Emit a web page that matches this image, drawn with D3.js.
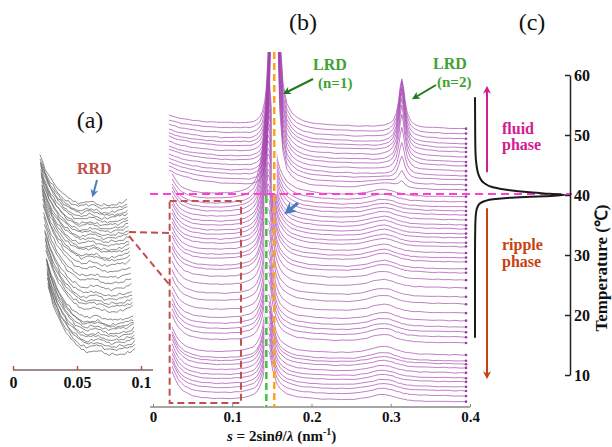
<!DOCTYPE html>
<html>
<head>
<meta charset="utf-8">
<script src="https://cdn.jsdelivr.net/npm/d3@7"></script>
<style>
  body { margin: 0; background: #fff; }
  svg { display: block; font-family: "Liberation Serif", "Times New Roman", serif; }
</style>
</head>
<body>
<svg id="chart" width="612" height="447"></svg>
<script>
// scattering vector grid (nm^-1)
const sGrid = [
  0.020, 0.024, 0.028, 0.032, 0.036, 0.040, 0.045, 0.050, 0.056, 0.062, 0.068, 0.074,
  0.080, 0.086, 0.092, 0.098, 0.104, 0.110, 0.116, 0.122, 0.127, 0.131, 0.135, 0.138,
  0.141, 0.143, 0.145, 0.147, 0.149, 0.151, 0.153, 0.155, 0.157, 0.160, 0.164, 0.169,
  0.175, 0.182, 0.190, 0.198, 0.206, 0.214, 0.222, 0.230, 0.238, 0.246, 0.254, 0.262,
  0.270, 0.278, 0.285, 0.292, 0.298, 0.303, 0.307, 0.310, 0.312, 0.314, 0.316, 0.318,
  0.321, 0.325, 0.330, 0.337, 0.345, 0.353, 0.360, 0.367, 0.374, 0.381, 0.388, 0.395
];

// profile components (relative units)
const softRise = [
  1, 0.9, 0.8, 0.72, 0.64, 0.57, 0.5, 0.43, 0.36, 0.3, 0.25, 0.2,
  0.16, 0.12, 0.09, 0.07, 0.05, 0.035, 0.02, 0.01, 0, 0, 0, 0,
  0, 0, 0, 0, 0, 0, 0, 0, 0, 0, 0, 0,
  0, 0, 0, 0, 0, 0, 0, 0, 0, 0, 0, 0,
  0, 0, 0, 0, 0, 0, 0, 0, 0, 0, 0, 0,
  0, 0, 0, 0, 0, 0, 0, 0, 0, 0, 0, 0
];
const steepRise = [
  1.3, 1, 0.72, 0.5, 0.36, 0.26, 0.18, 0.12, 0.08, 0.05, 0.03, 0.02,
  0.01, 0, 0, 0, 0, 0, 0, 0, 0, 0, 0, 0,
  0, 0, 0, 0, 0, 0, 0, 0, 0, 0, 0, 0,
  0, 0, 0, 0, 0, 0, 0, 0, 0, 0, 0, 0,
  0, 0, 0, 0, 0, 0, 0, 0, 0, 0, 0, 0,
  0, 0, 0, 0, 0, 0, 0, 0, 0, 0, 0, 0
];
const lrdFluid = [
  0, 0, 0, 0, 0, 0.001, 0.001, 0.001, 0.002, 0.002, 0.002, 0.003,
  0.003, 0.003, 0.004, 0.004, 0.005, 0.005, 0.006, 0.006, 0.009, 0.013, 0.02, 0.032,
  0.055, 0.09, 0.16, 0.28, 0.5, 0.8, 1, 0.8, 0.5, 0.22, 0.1, 0.05,
  0.03, 0.018, 0.011, 0.007, 0.005, 0.004, 0.003, 0.002, 0.002, 0.002, 0.001, 0.001,
  0.001, 0, 0, 0, 0, 0, 0, 0, 0, 0, 0, 0,
  0, 0, 0, 0, 0, 0, 0, 0, 0, 0, 0, 0
];
const lrdRipple = [
  0.002, 0.002, 0.003, 0.003, 0.003, 0.003, 0.004, 0.004, 0.005, 0.005, 0.006, 0.007,
  0.008, 0.01, 0.012, 0.015, 0.02, 0.027, 0.04, 0.062, 0.095, 0.15, 0.26, 0.4,
  0.65, 0.85, 1, 0.97, 0.8, 0.6, 0.5, 0.38, 0.3, 0.22, 0.16, 0.11,
  0.075, 0.05, 0.035, 0.025, 0.018, 0.014, 0.011, 0.009, 0.008, 0.007, 0.006, 0.005,
  0.004, 0.004, 0.003, 0.003, 0.003, 0.003, 0.002, 0.002, 0.002, 0.002, 0.002, 0.002,
  0.002, 0.002, 0.002, 0.002, 0.001, 0.001, 0.001, 0.001, 0.001, 0.001, 0.001, 0.001
];
const lrd2 = [
  0, 0, 0, 0, 0, 0, 0, 0, 0, 0, 0, 0,
  0, 0, 0, 0, 0, 0, 0, 0, 0, 0, 0, 0,
  0, 0, 0, 0, 0, 0, 0, 0, 0, 0, 0, 0,
  0, 0, 0, 0, 0, 0.002, 0.002, 0.003, 0.0035, 0.004, 0.0055, 0.007,
  0.01, 0.015, 0.023, 0.04, 0.072, 0.142, 0.29, 0.56, 0.83, 1, 0.83, 0.56,
  0.29, 0.142, 0.072, 0.036, 0.02, 0.013, 0.009, 0.0066, 0.005, 0.004, 0.0032, 0.0027
];
const rippleBumpShape = [
  0, 0, 0, 0, 0, 0, 0, 0, 0, 0, 0, 0,
  0, 0, 0, 0, 0, 0, 0, 0, 0, 0, 0, 0,
  0, 0, 0, 0, 0, 0, 0, 0, 0, 0, 0, 0,
  0, 0, 0, 0, 0, 0, 0, 0, 0.02, 0.05, 0.12, 0.25,
  0.45, 0.72, 0.93, 1, 0.9, 0.72, 0.55, 0.45, 0.38, 0.32, 0.27, 0.22,
  0.16, 0.1, 0.06, 0.03, 0.01, 0, 0, 0, 0, 0, 0, 0
];
const tilt = [
  1, 1, 1, 1, 1, 1, 1, 1, 1, 1, 1, 1,
  1, 1, 1, 1, 1, 1, 1, 1, 1, 1, 1, 1,
  1, 1, 1, 1, 1, 1, 1, 1, 1, 1, 1, 1,
  0.97, 0.94, 0.9, 0.87, 0.83, 0.8, 0.76, 0.73, 0.7, 0.66, 0.63, 0.6,
  0.56, 0.53, 0.5, 0.47, 0.45, 0.42, 0.41, 0.4, 0.39, 0.38, 0.37, 0.36,
  0.35, 0.33, 0.31, 0.28, 0.24, 0.21, 0.17, 0.14, 0.1, 0.07, 0.03, 0
];
const wiggle = [
  0.3, -0.5, 0.8, -0.2, -0.9, 0.4, 0.1, -0.6, 0.7, -0.3, 0.5, -0.8, 0.2,
  0.9, -0.4, -0.1, 0.6, -0.7, 0.3, -0.2, 0.8, -0.5, 0.1, -0.9, 0.4,
  0.7, -0.3, -0.6, 0.5, 0.2, -0.8, 0.6, -0.1, 0.3, -0.4, 0.9, -0.2
];

// fluid phase spectra (top to bottom)
const fluidOffsets = [278, 273, 268, 263, 259, 255, 250, 245, 241, 236, 231, 227, 222, 217];
const fluidLRD1 = [420, 420, 410, 410, 400, 400, 390, 390, 380, 380, 370, 360, 350, 340];
const fluidLRD2 = [49, 52, 55, 56, 58, 58, 57, 55, 50, 42, 32, 22, 12, 6];
const fluidRise = [10, 10, 11, 11, 11, 12, 12, 12, 13, 13, 14, 14, 15, 16];
const fluidBump = [0, 0, 0, 0, 0, 0, 0, 0, 0, 0, 0, 1, 3, 5];

// ripple phase spectra (top to bottom)
const rippleOffsets = [210, 205, 200, 196, 192, 187, 182, 178, 173, 169, 164, 160, 154, 149, 145, 138, 134, 127, 119,
  110, 103, 94, 86, 80, 75, 70, 64, 52, 46, 43, 39, 34, 29, 25, 20, 16, 11, 5];
const rippleLRD = [115, 112, 110, 108, 105, 103, 100, 98, 96, 94, 92, 90, 88, 86, 84, 82, 80, 78, 76,
  74, 72, 70, 68, 66, 64, 62, 60, 58, 57, 56, 55, 54, 53, 52, 51, 50, 49, 48];
const rippleRise = [20, 20, 20, 21, 21, 21, 21, 22, 22, 22, 22, 22, 23, 23, 23, 23, 23, 24, 24,
  24, 24, 24, 25, 25, 25, 25, 25, 25, 26, 26, 26, 26, 26, 26, 26, 27, 27, 27];
const rippleBump = [6, 6, 6, 6, 6, 7, 7, 7, 7, 7, 7, 7, 7, 7, 7, 7, 7, 7, 7,
  7, 7, 7, 7, 7, 7, 7, 7, 7, 7, 6, 6, 6, 6, 6, 6, 6, 6, 6];

// panel (a): magnified small-angle region
const sA = [0.021, 0.023, 0.025, 0.027, 0.029, 0.031, 0.033, 0.035, 0.037, 0.039, 0.041, 0.043,
  0.045, 0.047, 0.049, 0.051, 0.053, 0.055, 0.057, 0.059, 0.061, 0.063, 0.065, 0.067,
  0.069, 0.071, 0.073, 0.075, 0.077, 0.079, 0.081, 0.083, 0.085, 0.087, 0.089];
const riseA = [1, 0.86, 0.74, 0.63, 0.54, 0.46, 0.39, 0.33, 0.27, 0.22, 0.18, 0.14,
  0.11, 0.08, 0.06, 0.04, 0.03, 0.02, 0.01, 0, 0, 0, 0, 0,
  0, 0, 0, 0, 0, 0, 0, 0, 0, 0, 0];
const rrdA = [0, 0, 0, 0, 0, 0, 0, 0, 0, 0, 0, 0,
  0, 0, 0, 0, 0.2, 0.5, 0.8, 1, 1, 0.8, 0.5, 0.2,
  0, 0, 0, 0, 0, 0, 0, 0, 0, 0, 0];
const tailA = [0, 0, 0, 0, 0, 0, 0, 0, 0, 0, 0, 0,
  0, 0, 0, 0, 0, 0, 0, 0, 0, 0, 0, 0,
  0, 0, 0, 0.05, 0.1, 0.17, 0.25, 0.35, 0.5, 0.7, 1];

// panel (c): DSC trace
const dscTemp = [56.3, 50, 47, 45, 44, 43, 42, 41.3, 40.8, 40.5, 40.2, 40, 39.8, 39.6, 39.3, 39, 38.6, 38, 37, 35, 30, 16.2];
const dscFlow = [0, 0.2, 0.5, 1.5, 2.5, 4.5, 9, 18, 35, 52, 75, 90, 70, 40, 18, 10, 5, 2.5, 1, 0.3, 0, 0];
const tempTicks = [10, 20, 30, 40, 50, 60];

const svg = d3.select('#chart');
const defs = svg.append('defs');

const marker = (id, color) => {
  defs.append('marker')
    .attr('id', id)
    .attr('viewBox', '0 0 10 10')
    .attr('refX', 7)
    .attr('refY', 5)
    .attr('markerWidth', 4)
    .attr('markerHeight', 4)
    .attr('orient', 'auto')
    .append('path')
    .attr('d', 'M0,0 L10,5 L0,10 L3,5 z')
    .attr('fill', color);
};
marker('mGreen', '#1f7a1f');
marker('mBlue', '#4a7ebb');
marker('mPink', '#d0208f');
marker('mRed', '#c8420e');

defs.append('clipPath')
  .attr('id', 'clipB')
  .append('rect')
  .attr('x', 140)
  .attr('y', 52)
  .attr('width', 345)
  .attr('height', 360);

// Panel (b)
const xB = d3.scaleLinear().domain([0, 0.4]).range([153, 470]);
const yB = d3.scaleLinear().domain([0, 360]).range([407, 47]);
const lineB = d3.line().x(d => xB(d[0])).y(d => yB(d[1]));

const spectra = [];
fluidOffsets.forEach((off, i) => {
  spectra.push(sGrid.map((s, j) => [s,
    off + 4 * tilt[j] + fluidRise[i] * softRise[j] + fluidLRD1[i] * lrdFluid[j] +
    fluidLRD2[i] * lrd2[j] + fluidBump[i] * rippleBumpShape[j] +
    0.4 * wiggle[(3 * j + 7 * i) % wiggle.length]]));
});
rippleOffsets.forEach((off, i) => {
  spectra.push(sGrid.slice(1).map((s, k) => {
    const j = k + 1;
    return [s,
      off + 3 * tilt[j] + rippleRise[i] * steepRise[j] + rippleLRD[i] * lrdRipple[j] +
      rippleBump[i] * rippleBumpShape[j] + 0.4 * wiggle[(5 * j + 11 * i + 3) % wiggle.length]];
  }));
});

const gB = svg.append('g').attr('clip-path', 'url(#clipB)');
gB.selectAll('path.spec')
  .data(spectra)
  .enter()
  .append('path')
  .attr('class', 'spec')
  .attr('d', lineB)
  .attr('fill', 'none')
  .attr('stroke', '#a444ae')
  .attr('stroke-opacity', 0.68)
  .attr('stroke-width', 1);

gB.selectAll('circle.end')
  .data(spectra)
  .enter()
  .append('circle')
  .attr('class', 'end')
  .attr('cx', d => xB(d[d.length - 1][0]))
  .attr('cy', d => yB(d[d.length - 1][1]))
  .attr('r', 1.3)
  .attr('fill', '#9a3aa5');

// axis (b)
const axB = svg.append('g')
  .attr('transform', 'translate(0,407)')
  .call(d3.axisBottom(xB).tickValues([0, 0.1, 0.2, 0.3, 0.4]).tickFormat(String)
    .tickSizeInner(-3).tickSizeOuter(0).tickPadding(4));
axB.select('.domain').attr('stroke', '#888').attr('stroke-width', 1.5).attr('d', 'M150,0H470');
axB.selectAll('line').attr('stroke', '#888');
axB.selectAll('text').attr('font-size', 15).attr('font-weight', 'bold')
  .attr('font-family', '"Liberation Serif", serif').attr('fill', '#111');

const xl = svg.append('text')
  .attr('x', 227)
  .attr('y', 441)
  .attr('font-size', 15)
  .attr('font-weight', 'bold')
  .attr('fill', '#111');
xl.append('tspan').attr('font-style', 'italic').text('s');
xl.append('tspan').text(' = 2sin');
xl.append('tspan').attr('font-style', 'italic').text('θ');
xl.append('tspan').text('/');
xl.append('tspan').attr('font-style', 'italic').text('λ');
xl.append('tspan').text(' (nm');
xl.append('tspan').attr('font-size', 10).attr('dy', -6).text('-1');
xl.append('tspan').attr('dy', 6).text(')');

// dashed guides
svg.append('line').attr('x1', xB(0.153)).attr('x2', xB(0.153)).attr('y1', 52).attr('y2', 194)
  .attr('stroke', '#fff').attr('stroke-width', 5);
svg.append('line').attr('x1', xB(0.153)).attr('x2', xB(0.153)).attr('y1', 52).attr('y2', 407)
  .attr('stroke', '#ffa31a').attr('stroke-width', 2.5).attr('stroke-dasharray', '7,4');
svg.append('line').attr('x1', xB(0.143)).attr('x2', xB(0.143)).attr('y1', 196).attr('y2', 407)
  .attr('stroke', '#fff').attr('stroke-width', 4);
svg.append('line').attr('x1', xB(0.143)).attr('x2', xB(0.143)).attr('y1', 196).attr('y2', 407)
  .attr('stroke', '#3cc43c').attr('stroke-width', 2.5).attr('stroke-dasharray', '7,4');
svg.append('line').attr('x1', 150).attr('x2', 572).attr('y1', 194).attr('y2', 194)
  .attr('stroke', '#ff3fcf').attr('stroke-width', 2).attr('stroke-dasharray', '8,5');

// zoom box and connectors
const boxColor = '#c0504d';
svg.append('rect')
  .attr('x', xB(0.021)).attr('y', 201)
  .attr('width', xB(0.111) - xB(0.021)).attr('height', 202)
  .attr('fill', 'none').attr('stroke', boxColor).attr('stroke-width', 2).attr('stroke-dasharray', '7,4');
svg.append('line').attr('x1', 129).attr('y1', 232).attr('x2', xB(0.021)).attr('y2', 233)
  .attr('stroke', boxColor).attr('stroke-width', 2).attr('stroke-dasharray', '7,4');
svg.append('line').attr('x1', 129).attr('y1', 236).attr('x2', xB(0.021)).attr('y2', 285)
  .attr('stroke', boxColor).attr('stroke-width', 2).attr('stroke-dasharray', '7,4');

// LRD annotations
const green = '#3fa332';
svg.append('text').attr('x', 313).attr('y', 70).attr('font-size', 16).attr('font-weight', 'bold')
  .attr('fill', green).text('LRD');
svg.append('text').attr('x', 318).attr('y', 88).attr('font-size', 15).attr('font-weight', 'bold')
  .attr('fill', green).text('(n=1)');
svg.append('text').attr('x', 433).attr('y', 69).attr('font-size', 16).attr('font-weight', 'bold')
  .attr('fill', green).text('LRD');
svg.append('text').attr('x', 437).attr('y', 87).attr('font-size', 15).attr('font-weight', 'bold')
  .attr('fill', green).text('(n=2)');
svg.append('line').attr('x1', 313).attr('y1', 79).attr('x2', 285).attr('y2', 93)
  .attr('stroke', '#1f7a1f').attr('stroke-width', 2).attr('marker-end', 'url(#mGreen)');
svg.append('line').attr('x1', 436).attr('y1', 85).attr('x2', 414).attr('y2', 98)
  .attr('stroke', '#1f7a1f').attr('stroke-width', 2).attr('marker-end', 'url(#mGreen)');
svg.append('line').attr('x1', 298).attr('y1', 203).attr('x2', 287).attr('y2', 212)
  .attr('stroke', '#4a7ebb').attr('stroke-width', 3).attr('marker-end', 'url(#mBlue)');

// Panel (a)
const xA = d3.scaleLinear().domain([0, 0.1]).range([13, 141]);
const yAoff = d3.scaleLinear().domain([0, 210]).range([358, 205]);
const ampA = d3.scaleLinear().domain([0, 1]).range([0, 2.5]);

const zoomed = rippleOffsets.map((off, i) => sA.map((s, k) => [
  xA(s) + (210 - off) * 0.04,
  yAoff(off) - ampA(rippleRise[i] * riseA[k] + 1.5 * rrdA[k] + 2 * tailA[k] +
    0.6 * wiggle[(2 * k + 3 * i) % wiggle.length])
]));

svg.append('g')
  .selectAll('path')
  .data(zoomed)
  .enter()
  .append('path')
  .attr('d', d3.line())
  .attr('fill', 'none')
  .attr('stroke', '#5e5e5e')
  .attr('stroke-opacity', 0.8)
  .attr('stroke-width', 0.9);

const axA = svg.append('g')
  .attr('transform', 'translate(0,370)')
  .call(d3.axisBottom(xA).tickValues([0, 0.05, 0.1]).tickFormat(String)
    .tickSizeInner(-4).tickSizeOuter(0).tickPadding(7));
axA.select('.domain').attr('stroke', '#7b6464').attr('stroke-width', 1.5).attr('d', 'M13,0H153');
axA.selectAll('line').attr('stroke', boxColor).attr('stroke-width', 1.5);
axA.selectAll('text').attr('font-size', 16).attr('font-weight', 'bold')
  .attr('font-family', '"Liberation Serif", serif').attr('fill', '#111');

svg.append('text').attr('x', 77).attr('y', 174).attr('font-size', 16).attr('font-weight', 'bold')
  .attr('fill', '#c0504d').text('RRD');
svg.append('line').attr('x1', 97).attr('y1', 180).attr('x2', 93).attr('y2', 195)
  .attr('stroke', '#4a7ebb').attr('stroke-width', 2).attr('marker-end', 'url(#mBlue)');

// Panel (c)
const xD = d3.scaleLinear().domain([0, 90]).range([475, 565]);
const yT = d3.scaleLinear().domain([10, 60]).range([375, 75]);

svg.append('path')
  .datum(dscTemp.map((t, i) => [dscFlow[i], t]))
  .attr('d', d3.line().x(d => xD(d[0])).y(d => yT(d[1])).curve(d3.curveMonotoneY))
  .attr('fill', 'none')
  .attr('stroke', '#1a1a1a')
  .attr('stroke-width', 2);

const axT = svg.append('g')
  .attr('transform', 'translate(570,0)')
  .call(d3.axisRight(yT).tickValues(tempTicks).tickSizeInner(-5).tickSizeOuter(0).tickPadding(4));
axT.select('.domain').attr('stroke', '#222').attr('stroke-width', 1.5);
axT.selectAll('line').attr('stroke', '#222').attr('stroke-width', 1.5);
axT.selectAll('text').attr('font-size', 16).attr('font-weight', 'bold')
  .attr('font-family', '"Liberation Serif", serif').attr('fill', '#111');

svg.append('text')
  .attr('transform', 'translate(607,268) rotate(-90)')
  .attr('text-anchor', 'middle')
  .attr('font-size', 17)
  .attr('font-weight', 'bold')
  .attr('fill', '#111')
  .text('Temperature (℃)');

svg.append('line').attr('x1', 487).attr('y1', yT(43.8)).attr('x2', 487).attr('y2', yT(57.8))
  .attr('stroke', '#d0208f').attr('stroke-width', 2).attr('marker-end', 'url(#mPink)');
svg.append('line').attr('x1', 487).attr('y1', yT(37.8)).attr('x2', 487).attr('y2', yT(9.7))
  .attr('stroke', '#c8420e').attr('stroke-width', 2).attr('marker-end', 'url(#mRed)');

svg.append('text').attr('x', 502).attr('y', 134).attr('font-size', 16).attr('font-weight', 'bold')
  .attr('fill', '#d0208f').text('fluid');
svg.append('text').attr('x', 502).attr('y', 150).attr('font-size', 16).attr('font-weight', 'bold')
  .attr('fill', '#d0208f').text('phase');
svg.append('text').attr('x', 502).attr('y', 250).attr('font-size', 16).attr('font-weight', 'bold')
  .attr('fill', '#c8420e').text('ripple');
svg.append('text').attr('x', 502).attr('y', 267).attr('font-size', 16).attr('font-weight', 'bold')
  .attr('fill', '#c8420e').text('phase');

// panel letters
[['(a)', 90, 128], ['(b)', 303, 30], ['(c)', 532, 30]].forEach(([t, x, y]) => {
  svg.append('text').attr('x', x).attr('y', y).attr('text-anchor', 'middle')
    .attr('font-size', 24).attr('fill', '#111').text(t);
});
</script>
</body>
</html>
